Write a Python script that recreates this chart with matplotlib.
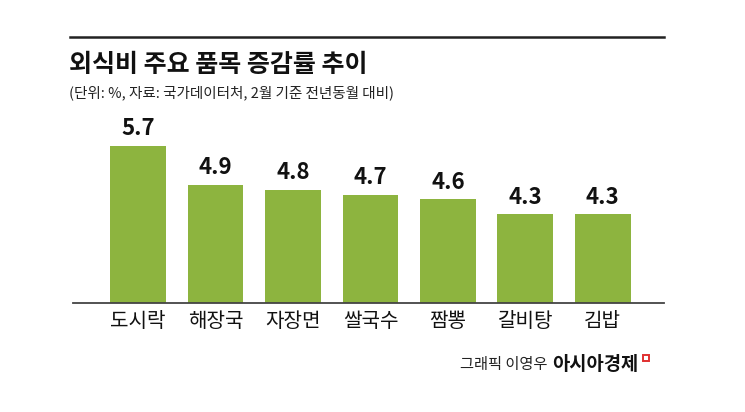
import matplotlib
matplotlib.use('Agg')
import matplotlib.pyplot as plt
from matplotlib.patches import Rectangle
from matplotlib.lines import Line2D

plt.rcParams['font.family'] = ['Noto Sans CJK KR', 'DejaVu Sans']

items = ['도시락', '해장국', '자장면', '쌀국수', '짬뽕', '갈비탕', '김밥']
rates = [5.7, 4.9, 4.8, 4.7, 4.6, 4.3, 4.3]
labels = ['5.7', '4.9', '4.8', '4.7', '4.6', '4.3', '4.3']

title = '외식비 주요 품목 증감률 추이'
subtitle = '(단위: %, 자료: 국가데이터처, 2월 기준 전년동월 대비)'
credit = '그래픽 이영우'
brand = '아시아경제'

W, H = 745, 412
fig = plt.figure(figsize=(W / 100, H / 100), dpi=100)
fig.patch.set_facecolor('white')

# axes: x 73..664 px, y 130..303 px
ax = fig.add_axes([73 / W, 1 - 303 / H, (664 - 73) / W, (303 - 130) / H])
x = list(range(len(items)))
ax.bar(x, rates, width=0.72, color='#8db43f')
ax.set_xlim(-0.84, 6.79)
ax.set_ylim(2.47, 6.03)
for s in ['top', 'right', 'left']:
    ax.spines[s].set_visible(False)
ax.spines['bottom'].set_color('#444444')
ax.spines['bottom'].set_linewidth(1.3)
ax.set_yticks([])
ax.set_xticks(x)
ax.set_xticklabels(items, fontsize=14.5, color='#111111')
ax.tick_params(axis='x', length=0, pad=6)

for xi, v, t in zip(x, rates, labels):
    ax.annotate(t, (xi, v), xytext=(0, 4), textcoords='offset points',
                ha='center', va='bottom', fontsize=16, fontweight='bold',
                color='#111111')

# header
fig.add_artist(Line2D([70 / W, 664 / W], [1 - 36.5 / H, 1 - 36.5 / H],
                      color='#222222', linewidth=1.8))
fig.text(69 / W, 1 - 65 / H, title, fontsize=18, fontweight='bold',
         color='#111111', ha='left', va='center')
fig.text(69 / W, 1 - 93 / H, subtitle, fontsize=10.5, color='#222222',
         ha='left', va='center')

# credit
fig.text(547 / W, 1 - 365 / H, credit, fontsize=11, color='#222222',
         ha='right', va='center')
fig.text(552 / W, 1 - 365 / H, brand, fontsize=13.5, fontweight='bold',
         color='#111111', ha='left', va='center')
fig.add_artist(Rectangle((643 / W, 1 - 361 / H), 6 / W, 6 / H,
                         fill=False, edgecolor='#e03030', linewidth=1.4))

fig.savefig('out.png', dpi=100)
